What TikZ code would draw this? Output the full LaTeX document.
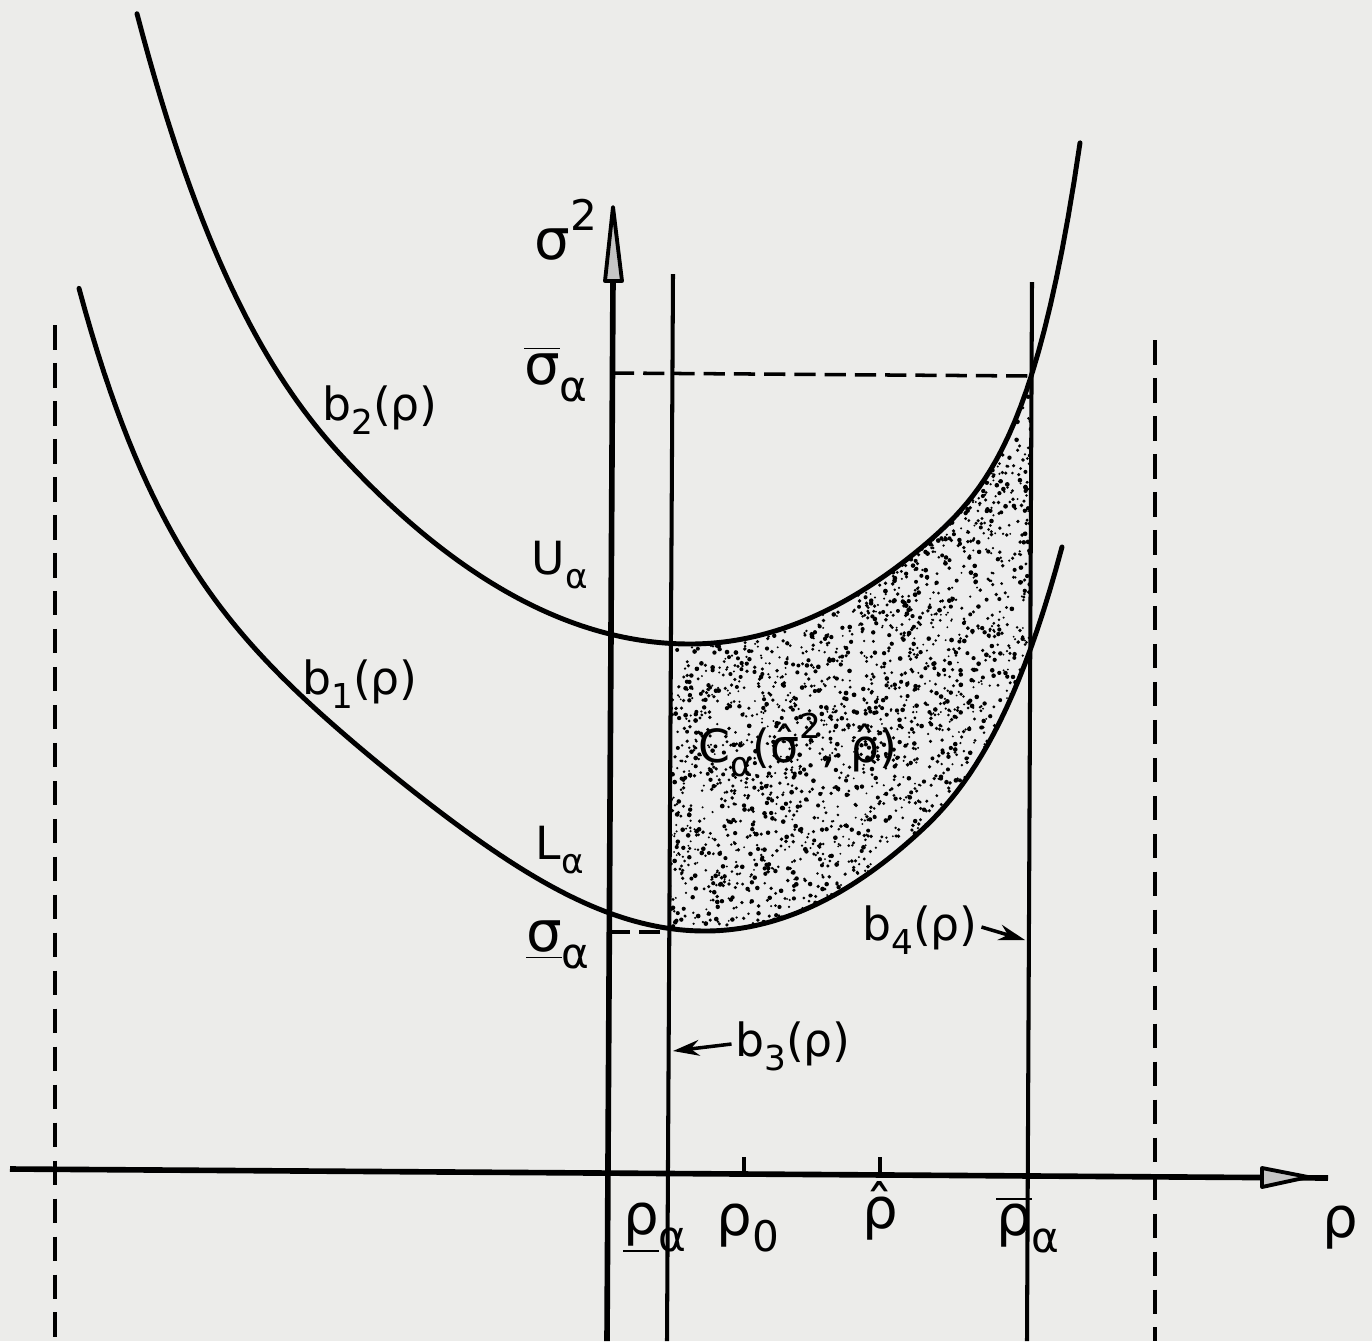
\documentclass[tikz,border=0pt]{standalone}
\usepackage{graphicx}
\usepackage{fontspec}
\setmainfont{DejaVu Sans}
\usetikzlibrary{arrows.meta}
\definecolor{paper}{RGB}{236,236,234}
\newcommand\mysub[1]{\raisebox{-0.55ex}{\scalebox{0.75}{#1}}}
\newcommand\mysup[1]{\raisebox{0.95ex}{\scalebox{0.75}{#1}}}
\newcommand\hatof[1]{\ooalign{#1\cr\hidewidth\raisebox{0.04em}{ˆ}\hidewidth\cr}}
\begin{document}
\begin{tikzpicture}[x=0.01cm,y=-0.01cm,
  declare function={
    fbtwo(\t)=644-(\t<0)*(15.5+1.24*max(abs(\t)-3.5,0)*max(abs(\t)-3.5,0))*\t*\t
                 -(\t>=0)*(18+3.65*max(\t-2.3,0)*max(\t-2.3,0)*max(\t-2.3,0))*\t*\t;
    fbone(\t)=931-(\t<0)*(20.13-0.5305*\t*\t+0.011106*\t*\t*\t*\t)*\t*\t
                 -(\t>=0)*(21.5+4.6*max(\t-2.2,0)*max(\t-2.2,0))*\t*\t;
  },
  curve/.style={line width=1.4pt, line cap=round, line join=round},
  vline/.style={line width=1.15pt},
  axisline/.style={line width=1.6pt},
  dline/.style={line width=1pt, dash pattern=on 6pt off 2.6pt},
  vdash/.style={line width=1.1pt, dash pattern=on 7pt off 3.8pt},
  big/.style={font=\fontsize{16}{18}\selectfont, inner sep=0pt},
  small/.style={font=\fontsize{13}{15}\selectfont, inner sep=0pt},
  ptr/.style={line width=1pt, -{Stealth[length=7.5pt,width=4.5pt]}},
  headtri/.style={line width=1.1pt, fill=gray!45, line join=round}
]
\fill[paper] (0,0) rectangle (1372,1341);
\useasboundingbox (0,0) rectangle (1372,1341);

% shaded region C_alpha
\begin{scope}
\clip (673,276) -- (1032,282) -- (1027,1341) -- (667,1341) -- cycle;
\clip plot[domain=137:1080, samples=160] (\x,{fbtwo((\x-690)/100)})
  -- plot[domain=1062:79, samples=160] (\x,{fbone((\x-705)/100)}) -- cycle;
\fill[gray!14] (600,300) rectangle (1100,1000);
\pgfmathsetseed{4242}
\foreach \i in {1,...,4200}{
  \pgfmathsetmacro\rx{665+370*rnd}
  \pgfmathsetmacro\ry{370+570*rnd}
  \pgfmathsetmacro\rr{0.28+0.4*rnd}
  \fill (\rx,\ry) circle[radius=\rr pt];
}
\end{scope}

% curves b2 and b1
\draw[curve] plot[domain=137:1080, samples=160] (\x,{fbtwo((\x-690)/100)});
\draw[curve] plot[domain=79:1062, samples=160] (\x,{fbone((\x-705)/100)});

% coordinates
\coordinate (yb) at (607,1341);
\coordinate (yt) at (613,278);
\coordinate (ytip) at (613,207);
\coordinate (xl) at (10,1169);
\coordinate (xr) at (1328,1178);
\coordinate (b3t) at (673,274);
\coordinate (b3b) at (667,1341);
\coordinate (b4t) at (1032,282);
\coordinate (b4b) at (1027,1341);

% axes
\draw[axisline] (yb) -- (yt);
\draw[headtri] (ytip) -- (605,281) -- (622,281) -- cycle;
\draw[axisline] (xl) -- (xr);
\draw[headtri] (1308,1177) -- (1262,1168) -- (1262,1187) -- cycle;

% vertical bounds b3, b4
\draw[vline] (b3t) -- (b3b);
\draw[vline] (b4t) -- (b4b);

% dashed asymptotes
\draw[vdash] (55,325) -- (55,1341);
\draw[vdash] (1155,340) -- (1155,1341);

% dashed levels
\draw[dline] (613,373) -- (1030,376);
\draw[dline] (609,932) -- (668,932);

% ticks
\draw[vline] (744,1157) -- (744,1174);
\draw[vline] (880,1157) -- (880,1176);

% labels
\node[big] (lsig) at (566,230) {σ\mysup{2}};
\node[big] (lsigbar) at (556,374) {$\overline{\hbox{σ}}$\mysub{α}};
\node[small] (lb2) at (380,410) {b\mysub{2}(ρ)};
\node[small] (lU) at (560,565) {U\mysub{α}};
\node[small] (lb1) at (360,684) {b\mysub{1}(ρ)};
\node[small] (lL) at (560,850) {L\mysub{α}};
\node[big] (lsigund) at (558,945) {\underline{σ}\mysub{α}};
\node[small] (lC) at (798,745) {C\mysub{α}(\hatof{σ}\mysup{2}, \hatof{ρ})};
\node[small] (lb3) at (793,1046) {b\mysub{3}(ρ)};
\node[small] (lb4) at (920,930) {b\mysub{4}(ρ)};
\node[big] (lrhou) at (655,1228) {\underline{ρ}\mysub{α}};
\node[big] (lrho0) at (748,1228) {ρ\mysub{0}};
\node[big] (lrhohat) at (880,1213) {\hatof{ρ}};
\node[big] (lrhobar) at (1028,1225) {$\overline{\hbox{ρ}}$\mysub{α}};
\node[big] (lrho) at (1340,1228) {ρ};

% pointers
\coordinate (p3) at (673,1051);
\coordinate (p4) at (1025,940);
\draw[ptr] (lb3.west) ++(-3,-2) -- (p3);
\draw[ptr] (lb4.east) ++(3,-3) -- (p4);
\end{tikzpicture}
\end{document}
